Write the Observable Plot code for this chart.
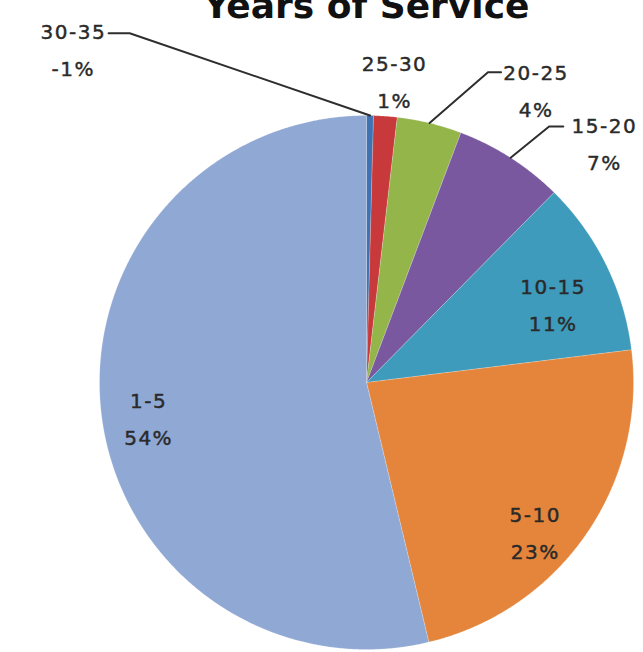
<!DOCTYPE html>
<html><head><meta charset="utf-8">
<script src="https://cdn.jsdelivr.net/npm/d3@7"></script>
<script src="https://cdn.jsdelivr.net/npm/@observablehq/plot@0.6"></script>
<style>
  html,body{margin:0;padding:0;background:#fff;}
  #chart svg{display:block;}
</style>
</head><body><div id="chart"></div>
<script>
// ---- data ----
const title = "Years of Service";
const categories = ["30-35", "25-30", "20-25", "15-20", "10-15", "5-10", "1-5"];
const shares = [0.42, 1.42, 3.91, 6.65, 10.65, 23.2, 53.75];
const percentLabels = ["-1%", "1%", "4%", "7%", "11%", "23%", "54%"];
const sliceColors = ["#3f72b3", "#c8393b", "#93b54a", "#7a58a0", "#3e9bbb", "#e4853b", "#90a8d4"];

// ---- layout (pie-relative unit coordinates) ----
const W = 643, H = 652, cx = 366, cy = 382, R = 267;
const labelX = [-1.098, 0.105, 0.635, 0.891, 0.699, 0.632, -0.816];
const labelY = [1.261, 1.141, 1.107, 0.908, 0.306, -0.549, -0.120];
const leaderCats = ["30-35", "20-25", "15-20"];
const leaderElbowX = [-0.887, 0.455, 0.684];
const leaderElbowY = [1.308, 1.162, 0.959];
const leaderEndX = [-0.966, 0.504, 0.737];
const leaderEndY = [1.308, 1.162, 0.959];

// ---- build geometry from data ----
const arcs = d3.pie().sort(null).value((d, i) => shares[i])(categories);
const slicePts = [];
arcs.forEach((a, i) => {
  const n = Math.max(4, Math.ceil((a.endAngle - a.startAngle) / 0.004));
  slicePts.push({cat: categories[i], x: 0, y: 0});
  for (let k = 0; k <= n; k++) {
    const t = a.startAngle + (a.endAngle - a.startAngle) * k / n;
    slicePts.push({cat: categories[i], x: Math.sin(t), y: Math.cos(t)});
  }
  slicePts.push({cat: categories[i], x: 0, y: 0});
});

const leaderPts = [];
leaderCats.forEach((c, j) => {
  const a = arcs[categories.indexOf(c)];
  const m = (a.startAngle + a.endAngle) / 2;
  leaderPts.push({cat: c, x: Math.sin(m), y: Math.cos(m)});
  leaderPts.push({cat: c, x: leaderElbowX[j], y: leaderElbowY[j]});
  leaderPts.push({cat: c, x: leaderEndX[j], y: leaderEndY[j]});
});

const labels = categories.map((c, i) => ({x: labelX[i], y: labelY[i], text: c + "\n" + percentLabels[i]}));

const chart = Plot.plot({
  width: W, height: H, margin: 0,
  x: {domain: [-1, 1], range: [cx - R, cx + R], axis: null},
  y: {domain: [-1, 1], range: [cy + R, cy - R], axis: null},
  color: {domain: categories, range: sliceColors},
  style: {background: "#ffffff", overflow: "hidden"},
  marks: [
    Plot.line(slicePts, {x: "x", y: "y", z: "cat", fill: "cat", stroke: "#ffffff", strokeOpacity: 0.2, strokeWidth: 1, curve: "linear"}),
    Plot.line(leaderPts, {x: "x", y: "y", z: "cat", stroke: "#2e2e2e", strokeWidth: 2, curve: "linear"}),
    Plot.text(labels, {x: "x", y: "y", text: "text", lineAnchor: "middle", lineHeight: 1.85,
      fontFamily: "DejaVu Sans", fontSize: 20, fill: "#2a2a2a", stroke: "#2a2a2a", strokeWidth: 0.45}),
    Plot.text([title], {x: [0], text: d => d, frameAnchor: "top", lineAnchor: "bottom", dy: 17,
      fontFamily: "DejaVu Sans", fontWeight: "bold", fontSize: 36, fill: "#111111"})
  ]
});
// slightly wide-set slice labels
d3.select(chart).selectAll('g[aria-label="text"]').filter((d, i) => i === 0).attr("letter-spacing", "1.5px");
document.getElementById("chart").appendChild(chart);
</script>
</body></html>
